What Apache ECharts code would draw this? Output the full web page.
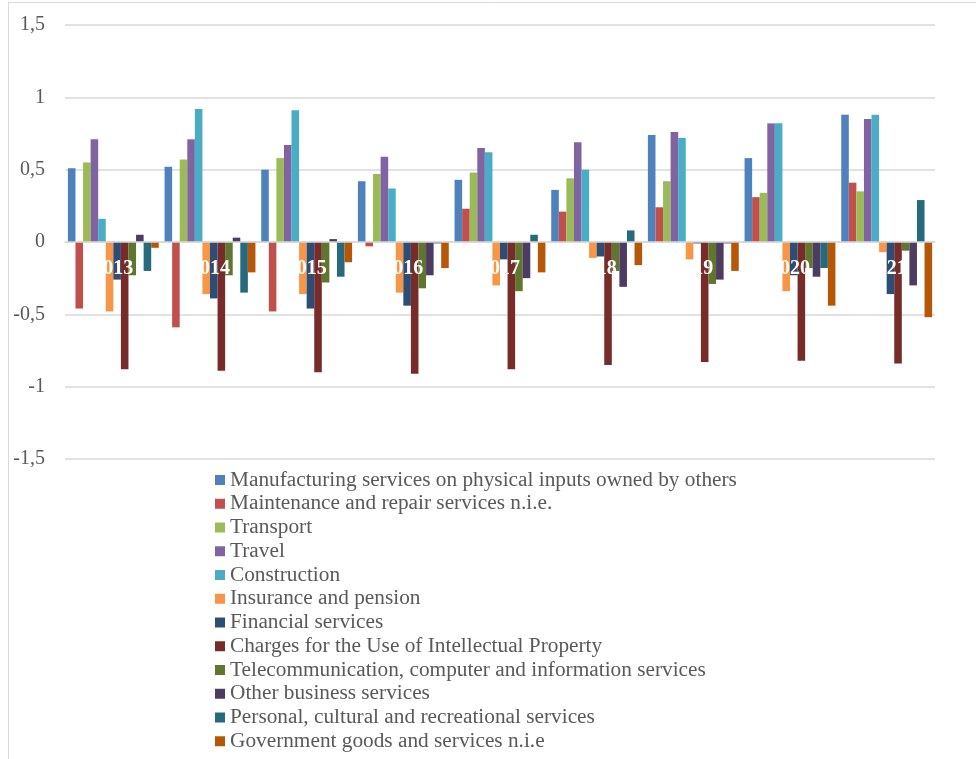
<!DOCTYPE html>
<html>
<head>
<meta charset="utf-8">
<script src="https://cdn.jsdelivr.net/npm/echarts@6/dist/echarts.min.js"></script>
<style>
  html, body { margin: 0; padding: 0; background: #fff; }
  #chart { width: 976px; height: 759px; }
</style>
</head>
<body>
<div id="chart"></div>
<script>
var years = ['2013', '2014', '2015', '2016', '2017', '2018', '2019', '2020', '2021'];

var manufacturing = [0.51, 0.52, 0.50, 0.42, 0.43, 0.36, 0.74, 0.58, 0.88];
var maintenance   = [-0.46, -0.59, -0.48, -0.03, 0.23, 0.21, 0.24, 0.31, 0.41];
var transport     = [0.55, 0.57, 0.58, 0.47, 0.48, 0.44, 0.42, 0.34, 0.35];
var travel        = [0.71, 0.71, 0.67, 0.59, 0.65, 0.69, 0.76, 0.82, 0.85];
var construction  = [0.16, 0.92, 0.91, 0.37, 0.62, 0.50, 0.72, 0.82, 0.88];
var insurance     = [-0.48, -0.36, -0.36, -0.35, -0.30, -0.11, -0.12, -0.34, -0.07];
var financial     = [-0.26, -0.39, -0.46, -0.44, -0.12, -0.10, -0.01, -0.23, -0.36];
var charges       = [-0.88, -0.89, -0.90, -0.91, -0.88, -0.85, -0.83, -0.82, -0.84];
var telecom       = [-0.23, -0.23, -0.28, -0.32, -0.34, -0.20, -0.29, -0.18, -0.06];
var otherBusiness = [0.05, 0.03, 0.02, -0.23, -0.25, -0.31, -0.26, -0.24, -0.30];
var personal      = [-0.20, -0.35, -0.24, -0.01, 0.05, 0.08, -0.01, -0.18, 0.29];
var government    = [-0.04, -0.21, -0.14, -0.18, -0.21, -0.16, -0.20, -0.44, -0.52];

var seriesNames = [
  'Manufacturing services on physical inputs owned by others',
  'Maintenance and repair services n.i.e.',
  'Transport',
  'Travel',
  'Construction',
  'Insurance and pension',
  'Financial services',
  'Charges for the Use of Intellectual Property',
  'Telecommunication, computer and information services',
  'Other business services',
  'Personal, cultural and recreational services',
  'Government goods and services n.i.e'
];
var seriesData = [manufacturing, maintenance, transport, travel, construction, insurance,
  financial, charges, telecom, otherBusiness, personal, government];
var colors = ['#4F81BD', '#C0504D', '#9BBB59', '#8064A2', '#4BACC6', '#F79646',
  '#2C4D75', '#772C2A', '#5F7530', '#4D3B62', '#276A7C', '#B65708'];

var serif = '"Liberation Serif", "DejaVu Serif", serif';

var series = seriesNames.map(function (name, i) {
  return {
    name: name,
    type: 'bar',
    data: seriesData[i],
    barGap: '0%',
    barCategoryGap: '6%',
    itemStyle: { color: colors[i] }
  };
});

var option = {
  animation: false,
  color: colors,
  graphic: [{
    type: 'rect',
    shape: { x: 8.5, y: 2.5, width: 1000, height: 800 },
    style: { fill: 'none', stroke: '#D9D9D9', lineWidth: 1 },
    silent: true
  }],
  grid: { left: 65, right: 41, top: 25, bottom: 300 },
  legend: {
    orient: 'vertical',
    left: 215,
    top: 469.5,
    height: 289,
    padding: 0,
    icon: 'rect',
    itemWidth: 10,
    itemHeight: 10,
    itemGap: 2.75,
    textStyle: { fontFamily: serif, fontSize: 21.3, color: '#595959', lineHeight: 20 }
  },
  xAxis: {
    type: 'category',
    data: years,
    z: 10,
    // the labels sit on the zero line, as in the original
    offset: -217,
    axisLine: { onZero: false, lineStyle: { color: '#D9D9D9', width: 1.5 } },
    axisTick: { show: false },
    axisLabel: {
      margin: 17,
      color: '#ffffff',
      fontFamily: serif,
      fontSize: 20,
      fontWeight: 'bold'
    }
  },
  yAxis: {
    type: 'value',
    min: -1.5,
    max: 1.5,
    interval: 0.5,
    axisLine: { show: false },
    axisTick: { show: false },
    splitLine: { lineStyle: { color: '#D9D9D9', width: 1.5 } },
    axisLabel: {
      margin: 20,
      color: '#595959',
      fontFamily: serif,
      fontSize: 20,
      formatter: function (v) { return String(v).replace('.', ','); }
    }
  },
  series: series
};

var myChart = echarts.init(document.getElementById('chart'));
myChart.setOption(option);
</script>
</body>
</html>
